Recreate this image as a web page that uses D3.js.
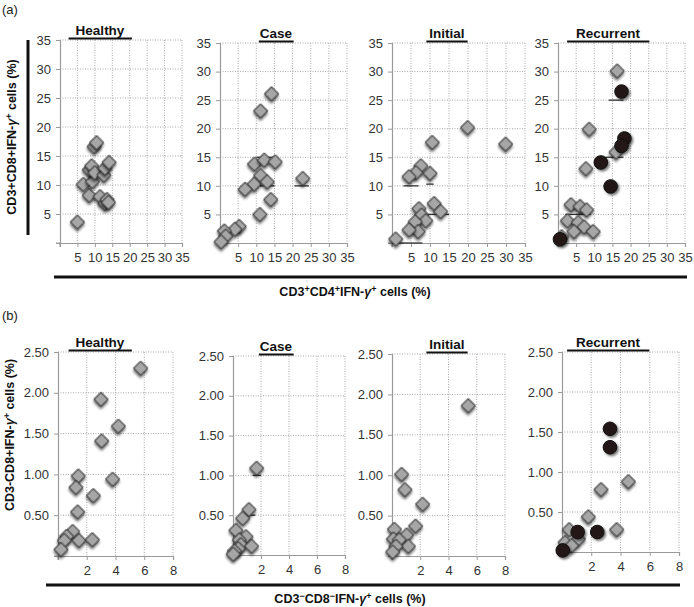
<!DOCTYPE html>
<html><head><meta charset="utf-8">
<script src="https://cdn.jsdelivr.net/npm/d3@7"></script>
<style>
body{margin:0;background:#fff;}
text{font-family:"Liberation Sans",Arial,Helvetica,sans-serif;}
</style></head>
<body><svg id="chart" width="694" height="607"></svg>
<script>
// ---------- data ----------
const groups = ["Healthy", "Case", "Initial", "Recurrent"];
const topTicks = [5, 10, 15, 20, 25, 30, 35];
const botXTicks = [2, 4, 6, 8];
const botYTicks = [0.5, 1.0, 1.5, 2.0, 2.5];
const topXLabel = "CD3⁺CD4⁺IFN-γ⁺ cells (%)";
const topYLabel = "CD3+CD8+IFN-γ+ cells (%)";
const botXLabel = "CD3⁻CD8⁻IFN-γ⁺ cells (%)";
const botYLabel = "CD3-CD8+IFN-γ+ cells (%)";

// (a) CD4+ vs CD8+ IFN-γ+ cells, diamonds
const topHealthy = [[5,3.6],[6.7,10.1],[8.4,8.2],[9.3,10.6],[8.4,12.6],[9.1,13.3],[9.8,16.6],[10.5,17.3],[10,12.1],[12.6,11.7],[12.9,12.9],[14.1,13.9],[11.5,8.0],[12.9,6.8],[13.5,7.5],[13.9,7.0]];
const topCase = [[14.2,26.1],[11.2,23.1],[9.5,13.8],[12.2,14.5],[15.2,14.2],[11.2,11.8],[9.4,10.3],[13.0,10.7],[6.9,9.4],[22.8,11.3],[14.0,7.6],[11.0,5.0],[5.3,2.9],[4.1,2.4],[1.2,2.1],[1.6,1.2],[0.3,0.2]];
const topInitial = [[19.9,20.2],[29.9,17.3],[10.6,17.6],[7.6,13.5],[6.3,12.3],[4.5,11.6],[10.0,12.2],[11.1,6.9],[12.8,5.5],[7.1,6.0],[7.8,4.9],[8.9,3.9],[6.1,3.7],[6.9,2.0],[4.5,2.3],[1.0,0.7]];
const topRecurrent = [[16.3,30.1],[8.6,19.9],[7.7,13.0],[16.0,15.9],[3.6,6.7],[6.1,6.4],[7.9,5.8],[2.6,3.9],[5.6,3.6],[7.2,2.8],[4.4,2.0],[9.7,2.0],[1.0,1.1]];
const topRecurrentCircles = [[17.5,26.5],[18.3,18.3],[17.5,17.0],[11.8,14.1],[14.5,9.9],[0.55,0.65]];

// (b) CD3-CD8- vs CD3-CD8+ IFN-γ+ cells, diamonds
const botHealthy = [[5.75,2.30],[2.99,1.92],[4.2,1.59],[3.04,1.41],[3.8,0.94],[1.41,0.98],[1.25,0.84],[2.46,0.74],[1.37,0.54],[1.02,0.30],[0.6,0.24],[0.44,0.19],[1.46,0.19],[2.39,0.20],[0.21,0.08]];
const botCase = [[1.69,1.09],[1.14,0.57],[0.69,0.46],[0.21,0.31],[0.93,0.23],[0.45,0.19],[0.55,0.13],[1.33,0.11],[0.38,0.08],[0.1,0.05],[0.02,0.01]];
const botInitial = [[5.4,1.86],[0.68,1.01],[0.92,0.82],[2.17,0.64],[1.67,0.37],[0.17,0.33],[1.04,0.26],[0.1,0.21],[0.52,0.20],[1.16,0.12],[0.28,0.12],[0.05,0.05]];
const botRecurrent = [[4.54,0.88],[2.67,0.78],[1.8,0.44],[3.74,0.28],[0.5,0.28],[1.12,0.16],[0.21,0.12],[0.66,0.08]];
const botRecurrentCircles = [[3.28,1.54],[3.28,1.31],[1.07,0.25],[2.41,0.25],[0.05,0.02]];

// short summary bars (x1, x2, y) in data units
const topCaseBars = [[20.5,24.5,10],[10,15,15],[11,15,10]];
const topInitialBars = [[3,7,10],[0,8,0],[8,15,5],[9,11,10.3]];
const topRecurrentBars = [[13,18,15],[13,16,10],[14,18,25],[2,9,5]];
const botCaseBars = [[1.4,2.0,1.0],[1.0,1.6,0.5]];

// ---------- layout ----------
const svg = d3.select("#chart");
const W = 694, H = 607;
const defs = svg.append("defs");
const f = defs.append("filter").attr("id","sh").attr("x","-50%").attr("y","-50%").attr("width","200%").attr("height","200%");
f.append("feDropShadow").attr("dx",1.6).attr("dy",1.8).attr("stdDeviation",1.1).attr("flood-color","#000").attr("flood-opacity",0.55);

const panels = [
  {row:0, title:groups[0], box:[60,182,40,243], pad:7, pts:topHealthy},
  {row:0, title:groups[1], box:[220,347,43,243], pad:1, pts:topCase, bars:topCaseBars},
  {row:0, title:groups[2], box:[392,525,43,243], pad:3, pts:topInitial, bars:topInitialBars},
  {row:0, title:groups[3], box:[558,685,43,243], pad:9, pts:topRecurrent, circles:topRecurrentCircles, bars:topRecurrentBars},
  {row:1, title:groups[0], box:[58,173,352,556], pad:7, pts:botHealthy},
  {row:1, title:groups[1], box:[233,345,356,555], pad:1, pts:botCase, bars:botCaseBars},
  {row:1, title:groups[2], box:[392,505,354,556], pad:3, pts:botInitial},
  {row:1, title:groups[3], box:[562,679,352,552], pad:9, pts:botRecurrent, circles:botRecurrentCircles}
];

const diamond = d3.symbol().type(d3.symbolSquare).size(100);

panels.forEach(p => {
  const [x0,x1,y0,y1] = p.box;
  const top = p.row === 0;
  const xs = d3.scaleLinear().domain(top ? [0,35] : [0,8]).range([x0,x1]);
  const ys = d3.scaleLinear().domain(top ? [0,35] : [0,2.5]).range([y1,y0]);
  const xt = top ? topTicks : botXTicks;
  const yt = top ? topTicks : botYTicks;
  const g = svg.append("g");

  // grid
  g.append("g").selectAll("line").data(xt).join("line")
    .attr("x1",d=>xs(d)).attr("x2",d=>xs(d)).attr("y1",y0).attr("y2",y1)
    .attr("stroke","#a9a9a9").attr("stroke-width",1).attr("stroke-dasharray","1,1.5");
  g.append("g").selectAll("line").data(yt).join("line")
    .attr("x1",x0).attr("x2",x1).attr("y1",d=>ys(d)).attr("y2",d=>ys(d))
    .attr("stroke","#a9a9a9").attr("stroke-width",1).attr("stroke-dasharray","1,1.5");

  // axes
  const xAxis = d3.axisBottom(xs).tickValues(xt).tickSize(4).tickPadding(6)
    .tickFormat(d => top ? d : d3.format("d")(d));
  const yAxis = d3.axisLeft(ys).tickValues(yt).tickSize(4).tickPadding(5)
    .tickFormat(d => top ? d : d3.format(".2f")(d));
  const gx = g.append("g").attr("transform",`translate(0,${y1})`).call(xAxis);
  const gy = g.append("g").attr("transform",`translate(${x0},0)`).call(yAxis);
  [gx,gy].forEach(a => {
    a.select(".domain").attr("stroke","#9a9a9a").attr("stroke-width",1.2);
    a.selectAll(".tick line").attr("stroke","#9a9a9a");
    a.selectAll(".tick text").attr("fill","#333").attr("font-size", 13);
  });
  // extend axes to include 0 tick marks
  g.append("line").attr("x1",x0).attr("x2",x0).attr("y1",y1).attr("y2",y1+4).attr("stroke","#9a9a9a");
  g.append("line").attr("x1",x0-4).attr("x2",x0).attr("y1",y1).attr("y2",y1).attr("stroke","#9a9a9a");

  // summary bars
  if (p.bars) {
    g.append("g").selectAll("line").data(p.bars).join("line")
      .attr("x1",d=>xs(d[0])).attr("x2",d=>xs(d[1])).attr("y1",d=>ys(d[2])).attr("y2",d=>ys(d[2]))
      .attr("stroke","#333").attr("stroke-width",1.3);
  }

  // diamonds
  g.append("g").selectAll("path").data(p.pts).join("path")
    .attr("d", diamond)
    .attr("transform", d => `translate(${xs(d[0])},${ys(d[1])}) rotate(45)`)
    .attr("fill","#a6a6a6").attr("stroke","#2b2b2b").attr("stroke-width",1)
    .attr("filter","url(#sh)");
  // circles
  if (p.circles) {
    g.append("g").selectAll("circle").data(p.circles).join("circle")
      .attr("cx", d => xs(d[0])).attr("cy", d => ys(d[1])).attr("r", 6.8)
      .attr("fill","#231815").attr("stroke","#111").attr("filter","url(#sh)");
  }

  // title with underline
  const cx = (x0 + x1) / 2 - (top ? 20 : 18) * 0 ;
  const tx = p.title === "Healthy" ? (top?100:100) : p.title === "Case" ? 276 : p.title === "Initial" ? 447 : 608;
  const tY = y0 - 5;
  const t = g.append("text").attr("x",tx).attr("y",tY).attr("text-anchor","middle")
    .attr("font-size",13.5).attr("font-weight","bold").attr("fill","#111").text(p.title);
  const bb = t.node().getBBox();
  g.append("line").attr("x1",bb.x - p.pad).attr("x2",bb.x + bb.width + p.pad)
    .attr("y1", y0 - 1.5).attr("y2", y0 - 1.5).attr("stroke","#111").attr("stroke-width",2.2);
});

// panel letters
svg.append("text").attr("x",2).attr("y",14).attr("font-size",13).attr("fill","#222").text("(a)");
svg.append("text").attr("x",2).attr("y",320).attr("font-size",13).attr("fill","#222").text("(b)");

// row (a) decorations
svg.append("line").attr("x1",28).attr("x2",28).attr("y1",40).attr("y2",235).attr("stroke","#111").attr("stroke-width",3);
svg.append("text").attr("transform","translate(16,137) rotate(-90)").attr("text-anchor","middle")
  .attr("font-size",12.5).attr("font-weight","bold").attr("fill","#111")
  .html('CD3+CD8+IFN-<tspan font-style="italic">γ</tspan><tspan dy="-4" font-size="9">+</tspan><tspan dy="4"> cells (%)</tspan>');
svg.append("line").attr("x1",54).attr("x2",687).attr("y1",277).attr("y2",277).attr("stroke","#111").attr("stroke-width",3);
svg.append("text").attr("x",355).attr("y",296).attr("text-anchor","middle")
  .attr("font-size",12.5).attr("font-weight","bold").attr("fill","#111")
  .html('CD3<tspan dy="-4" font-size="9">+</tspan><tspan dy="4">CD4</tspan><tspan dy="-4" font-size="9">+</tspan><tspan dy="4">IFN-</tspan><tspan font-style="italic">γ</tspan><tspan dy="-4" font-size="9">+</tspan><tspan dy="4"> cells (%)</tspan>');

// row (b) decorations
svg.append("text").attr("transform","translate(14,435) rotate(-90)").attr("text-anchor","middle")
  .attr("font-size",12.5).attr("font-weight","bold").attr("fill","#111")
  .html('CD3-CD8+IFN-<tspan font-style="italic">γ</tspan><tspan dy="-4" font-size="9">+</tspan><tspan dy="4"> cells (%)</tspan>');
svg.append("line").attr("x1",46).attr("x2",680).attr("y1",585).attr("y2",585).attr("stroke","#111").attr("stroke-width",3);
svg.append("text").attr("x",350).attr("y",603).attr("text-anchor","middle")
  .attr("font-size",12.5).attr("font-weight","bold").attr("fill","#111")
  .html('CD3<tspan dy="-4" font-size="9">−</tspan><tspan dy="4">CD8</tspan><tspan dy="-4" font-size="9">−</tspan><tspan dy="4">IFN-</tspan><tspan font-style="italic">γ</tspan><tspan dy="-4" font-size="9">+</tspan><tspan dy="4"> cells (%)</tspan>');
</script>
</body></html>
